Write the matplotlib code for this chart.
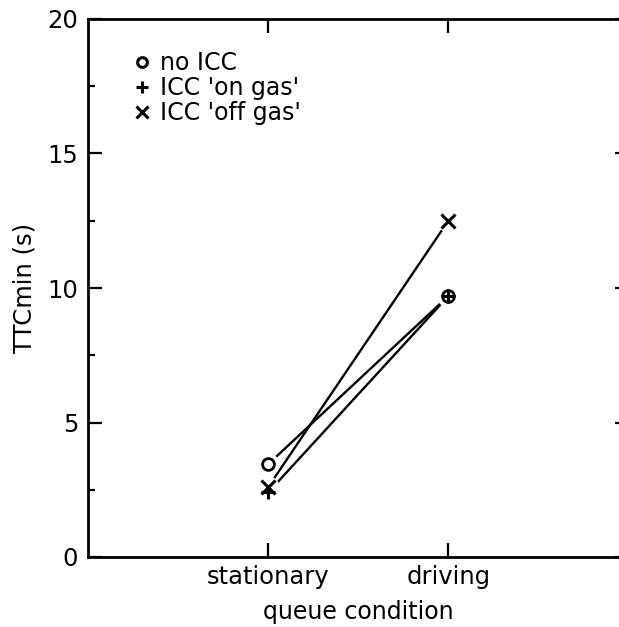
import matplotlib
matplotlib.use("Agg")
import matplotlib.pyplot as plt
from matplotlib.lines import Line2D

plt.rcParams['font.family'] = ['DejaVu Sans']

# Data
conditions = ['stationary', 'driving']
series_names = ["no ICC", "ICC 'on gas'", "ICC 'off gas'"]
no_icc = [3.45, 9.7]
icc_on_gas = [2.4, 9.7]
icc_off_gas = [2.6, 12.5]
markers = ['o', '+', 'x']

x_pos = [1, 2]

fig = plt.figure(figsize=(6.19, 6.27), dpi=100)
ax = fig.add_axes([88 / 619, 70 / 627, 540.5 / 619, 538 / 627])

for values, m in zip([no_icc, icc_on_gas, icc_off_gas], markers):
    # connecting line
    ax.plot(x_pos, values, color='black', lw=1.7, zorder=1, solid_capstyle='butt')
    # white halo so the line stops short of the marker
    ax.plot(x_pos, values, 'o', ms=16, mfc='white', mec='none', zorder=2)
for values, m in zip([no_icc, icc_on_gas, icc_off_gas], markers):
    if m == 'o':
        ax.plot(x_pos, values, m, ms=8.5, mfc='white', mec='black', mew=2, zorder=3)
    else:
        ax.plot(x_pos, values, m, ms=10, color='black', mew=2.2, zorder=4)

ax.set_xlim(0, 3)
ax.set_ylim(0, 20)
ax.set_xticks(x_pos)
ax.set_xticklabels(conditions)
ax.set_yticks([0, 5, 10, 15, 20])
ax.set_yticks([2.5, 7.5, 12.5, 17.5], minor=True)

ax.tick_params(axis='both', which='major', direction='in', length=10, width=1.6,
               labelsize=17.5, top=True, right=True)
ax.tick_params(axis='y', which='major', pad=7)
ax.tick_params(axis='x', which='major', pad=6)
ax.tick_params(axis='y', which='minor', direction='in', length=5, width=1.6)
for s in ax.spines.values():
    s.set_linewidth(2)

ax.set_xlabel('queue condition', fontsize=17, labelpad=8)
ax.set_ylabel('TTCmin (s)', fontsize=17.5, labelpad=8)

handles = [Line2D([], [], marker=m, linestyle='none', color='black',
                  mfc='white', ms=7 if m == 'o' else 8, mew=2.2) for m in markers]
ax.legend(handles, series_names, loc='upper left', bbox_to_anchor=(0.07, 0.958),
          frameon=False, fontsize=17, handlelength=0.6, handletextpad=0.45,
          labelspacing=0.05, borderaxespad=0)

fig.savefig('out.png', dpi=100)
